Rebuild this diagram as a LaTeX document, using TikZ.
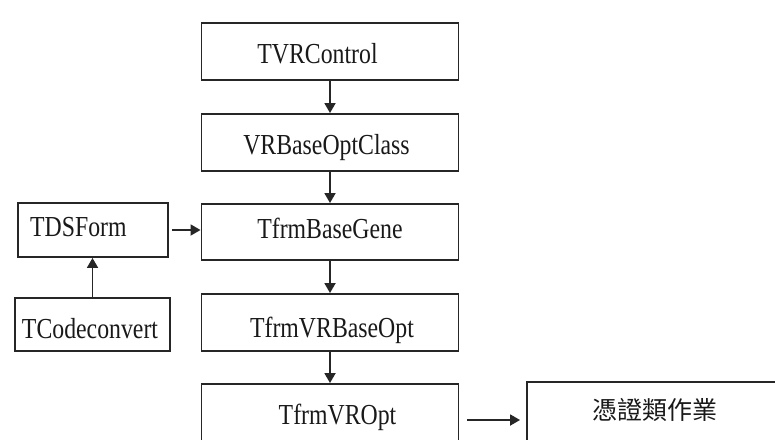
\documentclass[tikz,border=0pt]{standalone}
\usepackage{graphicx}
\usepackage{fontspec}
\setmainfont{Liberation Serif}
\newfontfamily\cjkfont{Noto Sans CJK TC}
\usetikzlibrary{arrows.meta}
% class names are set in a slightly condensed serif
\newcommand{\clsname}[1]{\scalebox{0.82}[1]{#1}}

\begin{document}
\begin{tikzpicture}[x=1pt,y=-1pt,
  box/.style={draw=black!85, line width=1.9pt, rectangle, inner sep=0pt},
  mainbox/.style={box, minimum width=257pt, minimum height=57pt},
  lbl/.style={font=\fontsize{29}{29}\selectfont, anchor=base, inner sep=0pt, text=black!90},
  cjklbl/.style={font=\cjkfont\fontsize{25}{25}\selectfont, inner sep=0pt, text=black!90},
  flow/.style={draw=black!85, line width=1.8pt, -{Triangle[length=10pt,width=11pt]}}]
\useasboundingbox (0,0) rectangle (775,439);
\clip (0,0) rectangle (775,439);

% main chain of classes
\node[mainbox] (tvr)    at (330,51.5)  {};
\node[mainbox] (vrb)    at (330,142.5) {};
\node[mainbox, minimum height=56pt] (gene) at (330,232) {};
\node[mainbox] (vrbopt) at (330,322.5) {};
\node[mainbox, minimum height=70pt] (vropt) at (330,419) {};

% side boxes
\node[box, minimum width=150pt, minimum height=54pt] (tds)   at (93,230)    {};
\node[box, minimum width=155pt, minimum height=53pt] (tcode) at (92.5,324.5) {};
\node[box, minimum width=258pt, minimum height=70pt] (cjk)   at (656,417)   {};

% labels
\node[lbl] (tvrT)    at (317.5,63) {\clsname{TVRControl}};
\node[lbl] (vrbT)    at (326.5,154) {\clsname{VRBaseOptClass}};
\node[lbl] (geneT)   at (330,238)  {\clsname{TfrmBaseGene}};
\node[lbl] (vrboptT) at (332,337)  {\clsname{TfrmVRBaseOpt}};
\node[lbl] (vroptT)  at (337.5,424) {\clsname{TfrmVROpt}};
\node[lbl, anchor=base west] (tdsT) at (30,236) {\clsname{TDSForm}};
\node[lbl] (tcodeT)  at (90,338)   {\clsname{TCodeconvert}};
\node[cjklbl] (cjkT) at (654.5,410) {憑證類作業};

% connectors
\draw[flow] (tvr.south)    -- (vrb.north);
\draw[flow] (vrb.south)    -- (gene.north);
\draw[flow] (gene.south)   -- (vrbopt.north);
\draw[flow] (vrbopt.south) -- (vropt.north);
\draw[flow, shorten <=3pt] (tds.east) -- (gene.west |- tds.east);
\draw[flow] (tcode.north) -- (tcode.north |- tds.south);
\coordinate (vroptOut) at (vropt.east |- 0,420);
\draw[flow, shorten <=8pt, shorten >=6pt] (vroptOut) -- (cjk.west |- vroptOut);
\end{tikzpicture}
\end{document}
